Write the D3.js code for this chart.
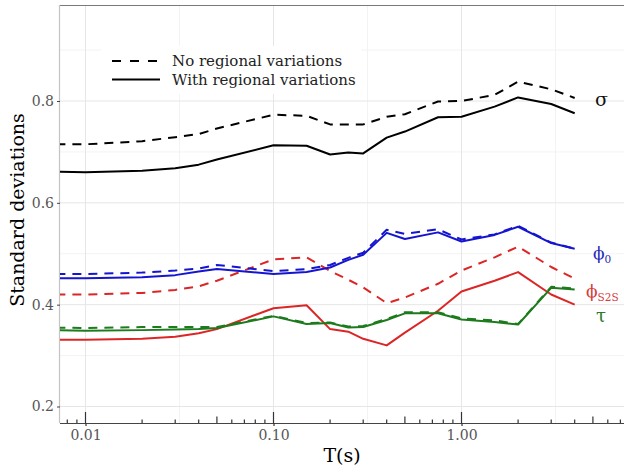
<!DOCTYPE html>
<html>
<head>
<meta charset="utf-8">
<script src="https://cdn.jsdelivr.net/npm/d3@7"></script>
<style>
  html, body { margin: 0; padding: 0; background: #fff; }
  svg { display: block; }
  text { font-family: "DejaVu Serif", "Liberation Serif", serif; }
</style>
</head>
<body>
<svg id="chart" width="624" height="472"></svg>
<script>
// Spectral periods (s)
const periods = [0.007, 0.01, 0.02, 0.03, 0.04, 0.05, 0.1, 0.15, 0.2, 0.25, 0.3, 0.4, 0.5, 0.75, 1, 1.5, 2, 3, 4];

// Standard deviations without regional variations (dashed)
const sigmaNoReg = [0.715, 0.715, 0.721, 0.729, 0.735, 0.746, 0.773, 0.771, 0.754, 0.754, 0.754, 0.769, 0.774, 0.799, 0.800, 0.812, 0.838, 0.823, 0.806];
const phi0NoReg  = [0.460, 0.460, 0.463, 0.467, 0.471, 0.478, 0.466, 0.470, 0.478, 0.492, 0.502, 0.547, 0.539, 0.548, 0.528, 0.538, 0.555, 0.522, 0.510];
const phiS2SNoReg = [0.420, 0.420, 0.423, 0.429, 0.436, 0.447, 0.489, 0.493, 0.466, 0.449, 0.434, 0.403, 0.414, 0.441, 0.467, 0.493, 0.514, 0.474, 0.451];
const tauNoReg   = [0.355, 0.354, 0.356, 0.356, 0.356, 0.356, 0.378, 0.364, 0.365, 0.357, 0.358, 0.372, 0.385, 0.385, 0.373, 0.369, 0.362, 0.435, 0.432];

// Standard deviations with regional variations (solid)
const sigmaReg  = [0.661, 0.660, 0.663, 0.668, 0.675, 0.685, 0.713, 0.712, 0.695, 0.699, 0.697, 0.728, 0.740, 0.768, 0.769, 0.789, 0.807, 0.794, 0.776];
const phi0Reg   = [0.452, 0.452, 0.454, 0.458, 0.465, 0.470, 0.460, 0.464, 0.473, 0.488, 0.498, 0.541, 0.529, 0.542, 0.524, 0.537, 0.553, 0.521, 0.510];
const phiS2SReg = [0.331, 0.331, 0.333, 0.337, 0.344, 0.352, 0.393, 0.399, 0.352, 0.347, 0.333, 0.320, 0.345, 0.388, 0.426, 0.447, 0.464, 0.420, 0.400];
const tauReg    = [0.350, 0.349, 0.350, 0.351, 0.352, 0.354, 0.377, 0.362, 0.364, 0.355, 0.356, 0.370, 0.383, 0.383, 0.371, 0.366, 0.361, 0.433, 0.430];

// Axis breaks and labels
const xBreaks = [0.01, 0.1, 1];
const xLabels = ["0.01", "0.10", "1.00"];
const xMinor = [Math.pow(10, -1.5), Math.pow(10, -0.5), Math.pow(10, 0.5)];
const yBreaks = [0.2, 0.4, 0.6, 0.8];
const yLabels = ["0.2", "0.4", "0.6", "0.8"];
const yMinor = [0.3, 0.5, 0.7, 0.9];

const legendLabels = ["No regional variations", "With regional variations"];

const colSigma = "#000000", colPhi0 = "#1515d0", colPhiS2S = "#dc2626", colTau = "#1d7a1d";

const series = [
  { values: sigmaNoReg, color: colSigma, dashed: true },
  { values: sigmaReg, color: colSigma, dashed: false },
  { values: phiS2SNoReg, color: colPhiS2S, dashed: true },
  { values: phiS2SReg, color: colPhiS2S, dashed: false },
  { values: phi0NoReg, color: colPhi0, dashed: true },
  { values: phi0Reg, color: colPhi0, dashed: false },
  { values: tauNoReg, color: colTau, dashed: true },
  { values: tauReg, color: colTau, dashed: false }
];

const panel = { left: 60, right: 624, top: 5, bottom: 423 };

const x = d3.scaleLog().domain([0.01, 1]).range([85.5, 461.5]);
const y = d3.scaleLinear().domain([0.2, 0.8]).range([406.5, 101]);

const svg = d3.select("#chart");

// Panel background and grid
svg.append("rect").attr("x", panel.left).attr("y", panel.top)
  .attr("width", panel.right - panel.left).attr("height", panel.bottom - panel.top)
  .attr("fill", "#fff");

const grid = svg.append("g");
grid.selectAll(".ymin").data(yMinor).join("line")
  .attr("x1", panel.left).attr("x2", panel.right)
  .attr("y1", d => y(d)).attr("y2", d => y(d))
  .attr("stroke", "#f0f0f0").attr("stroke-width", 0.8);
grid.selectAll(".xmin").data(xMinor).join("line")
  .attr("y1", panel.top).attr("y2", panel.bottom)
  .attr("x1", d => x(d)).attr("x2", d => x(d))
  .attr("stroke", "#f0f0f0").attr("stroke-width", 0.8);
grid.selectAll(".ymaj").data(yBreaks).join("line")
  .attr("x1", panel.left).attr("x2", panel.right)
  .attr("y1", d => y(d)).attr("y2", d => y(d))
  .attr("stroke", "#e6e6e6").attr("stroke-width", 1);
grid.selectAll(".xmaj").data(xBreaks).join("line")
  .attr("y1", panel.top).attr("y2", panel.bottom)
  .attr("x1", d => x(d)).attr("x2", d => x(d))
  .attr("stroke", "#e6e6e6").attr("stroke-width", 1);

// Panel borders
svg.append("line").attr("x1", panel.left).attr("x2", panel.right)
  .attr("y1", panel.top + 0.5).attr("y2", panel.top + 0.5)
  .attr("stroke", "#7a7a7a").attr("stroke-width", 1.2);
svg.append("line").attr("x1", panel.left - 0.5).attr("x2", panel.left - 0.5)
  .attr("y1", panel.top).attr("y2", panel.bottom)
  .attr("stroke", "#c4c4c4").attr("stroke-width", 1.2);

// Legend background
svg.append("rect").attr("x", 101).attr("y", 46).attr("width", 260).attr("height", 48)
  .attr("fill", "#fff");

// Clip for data lines
svg.append("clipPath").attr("id", "clip").append("rect")
  .attr("x", panel.left).attr("y", panel.top)
  .attr("width", panel.right - panel.left).attr("height", panel.bottom - panel.top);

const line = d3.line().x(d => x(d[0])).y(d => y(d[1]));

svg.append("g").attr("clip-path", "url(#clip)")
  .selectAll("path").data(series).join("path")
  .attr("d", s => line(periods.map((p, i) => [p, s.values[i]])))
  .attr("fill", "none")
  .attr("stroke", s => s.color)
  .attr("stroke-width", 2)
  .attr("stroke-linejoin", "round")
  .attr("stroke-dasharray", s => s.dashed ? "9,7" : null);

// Bottom axis line with log ticks
svg.append("line").attr("x1", panel.left).attr("x2", panel.right)
  .attr("y1", panel.bottom + 0.5).attr("y2", panel.bottom + 0.5)
  .attr("stroke", "#444").attr("stroke-width", 1.2);

const logTicks = [];
for (let e = -3; e <= 1; e++) {
  for (let m = 1; m <= 9; m++) {
    const v = m * Math.pow(10, e);
    const px = x(v);
    if (px >= panel.left && px <= panel.right) logTicks.push({ v, m });
  }
}
svg.append("g").selectAll("line").data(logTicks).join("line")
  .attr("x1", d => x(d.v)).attr("x2", d => x(d.v))
  .attr("y1", panel.bottom)
  .attr("y2", d => panel.bottom - (d.m === 1 ? 11 : d.m === 5 ? 6.5 : 3.5))
  .attr("stroke", "#333").attr("stroke-width", 1.2);

// X axis (tick marks below and labels)
const xAxis = d3.axisBottom(x).tickValues(xBreaks)
  .tickFormat((d, i) => xLabels[i]).tickSize(3).tickPadding(4);
const gx = svg.append("g").attr("transform", `translate(0,${panel.bottom})`).call(xAxis);
gx.select(".domain").remove();
gx.selectAll(".tick line").attr("stroke", "#333").attr("stroke-width", 1.2);
gx.selectAll(".tick text").attr("fill", "#555").attr("font-size", 14)
  .attr("font-family", "DejaVu Serif, serif");

// Y axis
const yAxis = d3.axisLeft(y).tickValues(yBreaks)
  .tickFormat((d, i) => yLabels[i]).tickSize(3).tickPadding(3);
const gy = svg.append("g").attr("transform", `translate(${panel.left},0)`).call(yAxis);
gy.select(".domain").remove();
gy.selectAll(".tick line").attr("stroke", "#444").attr("stroke-width", 1);
gy.selectAll(".tick text").attr("fill", "#555").attr("font-size", 14)
  .attr("font-family", "DejaVu Serif, serif");

// Axis titles
svg.append("text").attr("x", (panel.left + panel.right) / 2).attr("y", 462)
  .attr("text-anchor", "middle").attr("font-size", 19).attr("fill", "#000")
  .text("T(s)");
svg.append("text").attr("transform", "translate(24,210) rotate(-90)")
  .attr("text-anchor", "middle").attr("font-size", 19).attr("fill", "#000")
  .text("Standard deviations");

// Legend
const legend = svg.append("g");
[true, false].forEach((dashed, i) => {
  const ly = 61 + i * 18.5;
  legend.append("line").attr("x1", 112).attr("x2", 160)
    .attr("y1", ly).attr("y2", ly)
    .attr("stroke", "#000").attr("stroke-width", 2.2)
    .attr("stroke-dasharray", dashed ? "9,9" : null);
  legend.append("text").attr("x", 172).attr("y", ly).attr("dy", "0.35em")
    .attr("font-size", 15).attr("fill", "#222").text(legendLabels[i]);
});

// Series labels at the right edge
function seriesLabel(xPos, yPos, main, sub, color, size) {
  const t = svg.append("text").attr("x", xPos).attr("y", yPos)
    .attr("fill", color).attr("font-size", size);
  t.append("tspan").text(main);
  if (sub) t.append("tspan").attr("font-size", 10.5).attr("dy", 4).text(sub);
}
seriesLabel(595, 106, "σ", null, "#111", 19);
seriesLabel(593, 259, "ϕ", "0", "#2a2ab8", 17);
seriesLabel(586, 297, "ϕ", "S2S", "#d43c3c", 17);
seriesLabel(596, 322, "τ", null, "#2a7a2a", 18);
</script>
</body>
</html>
